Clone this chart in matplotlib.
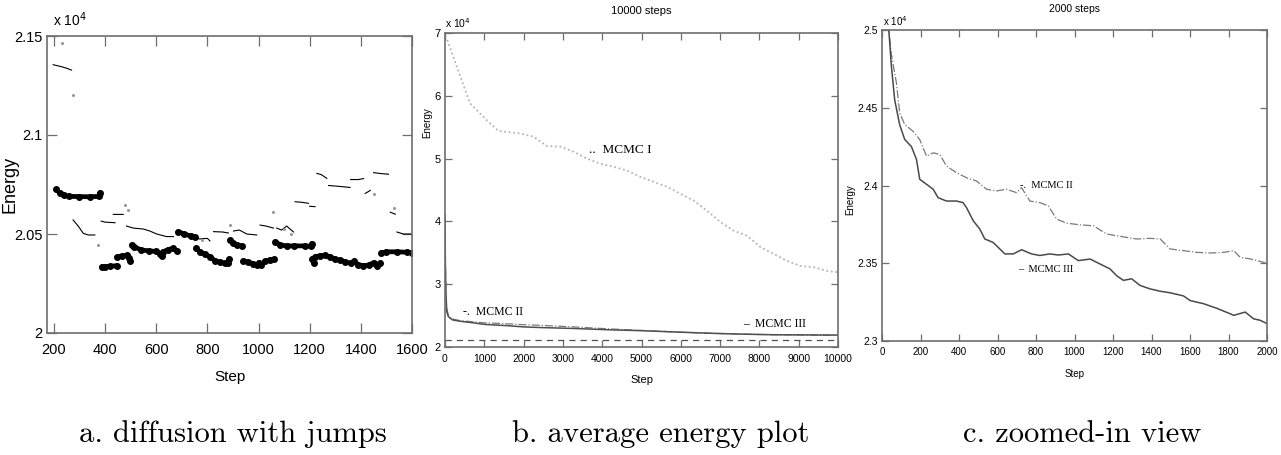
import matplotlib
matplotlib.use('Agg')
import matplotlib.pyplot as plt
import numpy as np

NARROW = ['Liberation Sans Narrow', 'Liberation Sans', 'DejaVu Sans']
SANS = ['Liberation Sans', 'DejaVu Sans']
SERIF = ['Liberation Serif', 'DejaVu Serif']
CAPTION = ['cmr10', 'DejaVu Serif']

# ---- panel a: diffusion with jumps (energy in units of 1e4) ----
thick_segments = [
    [(208, 2.0726), (225, 2.0705), (240, 2.0695), (260, 2.0690), (300, 2.0689),
     (340, 2.0688), (375, 2.0690), (380, 2.0709)],
    [(387, 2.0335), (400, 2.0335), (420, 2.0337), (445, 2.0340)],
    [(447, 2.0385), (465, 2.0389), (485, 2.0392), (495, 2.0380), (497, 2.0365)],
    [(504, 2.0445), (515, 2.0435), (540, 2.0420), (570, 2.0415), (600, 2.0412),
     (615, 2.0400), (621, 2.0389)],
    [(625, 2.0410), (645, 2.0420), (665, 2.0428), (680, 2.0415)],
    [(685, 2.0512), (710, 2.0500), (735, 2.0490), (752, 2.0485)],
    [(755, 2.0430), (770, 2.0410), (790, 2.0398), (810, 2.0385), (830, 2.0365),
     (850, 2.0358), (870, 2.0352), (880, 2.0355), (884, 2.0374)],
    [(889, 2.0470), (900, 2.0455), (915, 2.0445), (934, 2.0440)],
    [(941, 2.0365), (960, 2.0358), (980, 2.0350), (995, 2.0343)],
    [(1000, 2.0355), (1010, 2.0345), (1025, 2.0362), (1045, 2.0370), (1062, 2.0372)],
    [(1065, 2.0461), (1085, 2.0445), (1110, 2.0440), (1140, 2.0440), (1180, 2.0440),
     (1205, 2.0438), (1208, 2.0452)],
    [(1210, 2.0375), (1215, 2.0355)],
    [(1221, 2.0385), (1240, 2.0390), (1260, 2.0392), (1280, 2.0385), (1300, 2.0372),
     (1320, 2.0368), (1340, 2.0360), (1360, 2.0352), (1375, 2.0362), (1390, 2.0345),
     (1410, 2.0340), (1430, 2.0343), (1450, 2.0355), (1465, 2.0340), (1476, 2.0352)],
    [(1480, 2.0405), (1500, 2.0410), (1540, 2.0410), (1580, 2.0408), (1600, 2.0405)],
]

thin_segments = [
    [(197, 2.1355), (230, 2.1345), (250, 2.1337), (269, 2.1328)],
    [(275, 2.0571), (295, 2.0540), (315, 2.0503), (335, 2.0495), (360, 2.0495)],
    [(385, 2.0565), (400, 2.0560), (439, 2.0557)],
    [(432, 2.0599), (471, 2.0599)],
    [(484, 2.0540), (510, 2.0530), (550, 2.0525), (575, 2.0515), (602, 2.0500),
     (640, 2.0487), (667, 2.0487)],
    [(745, 2.0480), (771, 2.0475), (800, 2.0478), (810, 2.0465)],
    [(824, 2.0512), (860, 2.0510), (882, 2.0505)],
    [(902, 2.0515), (925, 2.0520), (954, 2.0500), (993, 2.0495)],
    [(1006, 2.0545), (1030, 2.0540), (1058, 2.0530)],
    [(1071, 2.0530), (1090, 2.0520), (1110, 2.0540), (1137, 2.0510)],
    [(1143, 2.0663), (1170, 2.0660), (1195, 2.0655)],
    [(1200, 2.0640), (1221, 2.0638)],
    [(1228, 2.0806), (1245, 2.0800), (1267, 2.0781)],
    [(1274, 2.0745), (1320, 2.0740), (1358, 2.0735)],
    [(1360, 2.0775), (1390, 2.0775), (1411, 2.0780)],
    [(1417, 2.0705), (1437, 2.0720)],
    [(1450, 2.0810), (1480, 2.0805), (1508, 2.0802)],
    [(1515, 2.0610), (1535, 2.0600)],
    [(1541, 2.0510), (1567, 2.0500), (1600, 2.0500)],
]

thin_dots = [(230, 2.1463), (273, 2.1202), (374, 2.0444), (478, 2.0646), (491, 2.0621),
             (780, 2.0470), (889, 2.0545), (1058, 2.0613), (1100, 2.0525), (1125, 2.0500),
             (1450, 2.0700), (1530, 2.0630)]

a_xticks = [200, 400, 600, 800, 1000, 1200, 1400, 1600]
a_yticks = [2.0, 2.05, 2.1, 2.15]
a_yticklabels = ['2', '2.05', '2.1', '2.15']

# ---- panel b: average energy, 10000 steps ----
b_steps_1 = [0, 42, 297, 637, 1062, 1359, 1912, 2251, 2591, 2931, 3271, 3611, 3951,
             4290, 4630, 4970, 5310, 5650, 5990, 6330, 6669, 7009, 7349, 7689, 8029,
             8368, 8708, 9048, 9388, 9728, 10000]
b_mcmc1 = [6.95, 6.92, 6.47, 5.88, 5.61, 5.44, 5.40, 5.35, 5.20, 5.19, 5.11, 5.00, 4.92,
           4.87, 4.81, 4.71, 4.63, 4.55, 4.44, 4.33, 4.17, 3.99, 3.85, 3.77, 3.59,
           3.48, 3.37, 3.29, 3.27, 3.21, 3.19]

b_steps_23 = [0, 10, 25, 43, 80, 128, 200, 383, 723, 1000, 1574, 2000, 2426, 3277,
              4128, 4979, 5830, 6681, 7532, 8383, 10000]
b_mcmc2 = [4.10, 3.40, 2.90, 2.62, 2.52, 2.47, 2.445, 2.42, 2.40, 2.385, 2.37, 2.355,
           2.345, 2.32, 2.29, 2.265, 2.24, 2.22, 2.205, 2.195, 2.185]
b_mcmc3 = [4.10, 3.30, 2.85, 2.57, 2.49, 2.46, 2.43, 2.41, 2.385, 2.36, 2.34, 2.32,
           2.31, 2.295, 2.275, 2.26, 2.24, 2.22, 2.205, 2.195, 2.19]
b_ground = 2.11

b_xticks = list(range(0, 10001, 1000))
b_yticks = [2, 3, 4, 5, 6, 7]

# ---- panel c: zoomed-in view, 2000 steps ----
c_steps_3 = [30, 36, 49, 66, 92, 118, 153, 179, 196, 231, 266, 291, 335, 387, 421, 439,
             474, 508, 534, 577, 612, 638, 682, 725, 777, 820, 872, 916, 968, 1020,
             1081, 1133, 1185, 1219, 1254, 1297, 1341, 1393, 1445, 1497, 1566, 1601,
             1670, 1740, 1809, 1827, 1887, 1930, 1965, 2000]
c_mcmc3 = [2.512, 2.499, 2.4765, 2.455, 2.439, 2.4296, 2.425, 2.4168, 2.404, 2.4008,
           2.3976, 2.3922, 2.390, 2.390, 2.389, 2.3858, 2.3773, 2.372, 2.3656, 2.3634,
           2.3592, 2.356, 2.356, 2.3587, 2.356, 2.355, 2.356, 2.3553, 2.356, 2.3517,
           2.3527, 2.3495, 2.3463, 2.342, 2.339, 2.340, 2.3357, 2.3335, 2.3320, 2.3310,
           2.329, 2.3260, 2.324, 2.321, 2.3175, 2.3165, 2.3186, 2.3143, 2.3133, 2.3112]

c_steps_2 = [30, 36, 49, 75, 92, 118, 161, 196, 231, 266, 300, 335, 387, 439, 491, 543,
             595, 647, 699, 725, 768, 820, 864, 907, 959, 1029, 1098, 1167, 1219, 1271,
             1323, 1393, 1445, 1497, 1566, 1636, 1705, 1775, 1827, 1861, 1913, 1983, 2000]
c_mcmc2 = [2.512, 2.499, 2.484, 2.4659, 2.4466, 2.4392, 2.4349, 2.4296, 2.4189, 2.421,
           2.420, 2.4125, 2.4082, 2.405, 2.4029, 2.3976, 2.3965, 2.3976, 2.3954, 2.3986,
           2.390, 2.389, 2.3869, 2.3784, 2.3758, 2.3747, 2.3741, 2.3688, 2.3677, 2.3666,
           2.3656, 2.366, 2.3656, 2.3592, 2.3581, 2.357, 2.3566, 2.357, 2.3581, 2.3538,
           2.3528, 2.3506, 2.3496]

c_xticks = list(range(0, 2001, 200))
c_yticks = [2.3, 2.35, 2.4, 2.45, 2.5]

captions = ['a. diffusion with jumps', 'b. average energy plot', 'c. zoomed-in view']

SPINE = '#6e6e6e'


def style_axes(ax, tick_len, xpad, width=1.2):
    for s in ax.spines.values():
        s.set_color(SPINE)
        s.set_linewidth(width)
    ax.tick_params(direction='in', top=True, right=True, length=tick_len,
                   color=SPINE, width=0.9)
    ax.tick_params(axis='x', pad=xpad)
    ax.tick_params(axis='y', pad=3)


def join(segments):
    xs, ys = [], []
    for seg in segments:
        for x, y in seg:
            xs.append(x)
            ys.append(y)
        xs.append(np.nan)
        ys.append(np.nan)
    return xs, ys


fig = plt.figure(figsize=(12.81, 4.55), dpi=100)
ax_a = fig.add_axes([47 / 1281, 1 - 333 / 455, 365 / 1281, 297 / 455])
ax_b = fig.add_axes([445 / 1281, 1 - 347 / 455, 393 / 1281, 314 / 455])
ax_c = fig.add_axes([882 / 1281, 1 - 341 / 455, 385 / 1281, 311 / 455])

# panel a
tx, ty = join(thin_segments)
ax_a.plot(tx, ty, color='black', lw=0.8)
ax_a.plot([p[0] for p in thin_dots], [p[1] for p in thin_dots], ls='none',
          marker='.', ms=2.5, color='#9a9a9a')
kx, ky = join(thick_segments)
ax_a.plot(kx, ky, color='black', lw=3.4, marker='o', ms=4, solid_capstyle='round')
ax_a.set_xlim(173, 1600)
ax_a.set_ylim(2.0, 2.15)
ax_a.set_xticks(a_xticks)
ax_a.set_xticklabels([str(t) for t in a_xticks], family=NARROW, fontsize=10.5)
ax_a.set_yticks(a_yticks)
ax_a.set_yticklabels(a_yticklabels, family=SANS, fontsize=10.5)
style_axes(ax_a, 7, 7)
ax_a.set_xlabel('Step', family=NARROW, fontsize=11)
ax_a.set_ylabel('Energy', family=SANS, fontsize=13)
ax_a.yaxis.set_label_coords(-0.079, 0.5)
ax_a.xaxis.set_label_coords(0.5, -0.125)
ax_a.text(0.016, 1.025, r'x 10$^{4}$', transform=ax_a.transAxes, family=NARROW,
          fontsize=10, va='bottom', ha='left')

# panel b
ax_b.plot(b_steps_1, b_mcmc1, ls=(0, (1, 1.5)), color='#b4b4b4', lw=1.3)
ax_b.plot(b_steps_23, b_mcmc2, ls='-.', color='#7a7a7a', lw=0.9)
ax_b.plot(b_steps_23, b_mcmc3, ls='-', color='#505050', lw=1.1)
ax_b.axhline(b_ground, ls=(0, (5, 4)), color='#505050', lw=0.9)
ax_b.set_xlim(0, 10000)
ax_b.set_ylim(2, 7)
ax_b.set_xticks(b_xticks)
ax_b.set_xticklabels([str(t) for t in b_xticks], family=NARROW, fontsize=7.5)
ax_b.set_yticks(b_yticks)
ax_b.set_yticklabels([str(t) for t in b_yticks], family=NARROW, fontsize=8)
style_axes(ax_b, 5, 5)
ax_b.set_xlabel('Step', family=NARROW, fontsize=8)
ax_b.set_ylabel('Energy', family=SANS, fontsize=7)
ax_b.yaxis.set_label_coords(-0.033, 0.713)
ax_b.xaxis.set_label_coords(0.5, -0.089)
ax_b.set_title('10000 steps', family=NARROW, fontsize=8, y=1.035)
ax_b.text(0.0, 1.01, r'x 10$^{4}$', transform=ax_b.transAxes, family=NARROW,
          fontsize=7.5, va='bottom', ha='left')
ax_b.text(3653, 5.14, '..  MCMC I', family=SERIF, fontsize=9.5, va='center')
ax_b.text(466, 2.56, '-.  MCMC II', family=SERIF, fontsize=8.5, va='center')
ax_b.text(7585, 2.36, '\u2013  MCMC III', family=SERIF, fontsize=8.5, va='center')

# panel c
ax_c.plot(c_steps_2, c_mcmc2, ls='-.', color='#7a7a7a', lw=0.9)
ax_c.plot(c_steps_3, c_mcmc3, ls='-', color='#4a4a4a', lw=1.1)
ax_c.set_xlim(0, 2000)
ax_c.set_ylim(2.3, 2.5)
ax_c.set_xticks(c_xticks)
ax_c.set_xticklabels([str(t) for t in c_xticks], family=NARROW, fontsize=7)
ax_c.set_yticks(c_yticks)
ax_c.set_yticklabels(['2.3', '2.35', '2.4', '2.45', '2.5'], family=NARROW, fontsize=7.5)
style_axes(ax_c, 5, 4)
ax_c.set_xlabel('Step', family=NARROW, fontsize=7)
ax_c.set_ylabel('Energy', family=SANS, fontsize=7)
ax_c.yaxis.set_label_coords(-0.070, 0.453)
ax_c.xaxis.set_label_coords(0.5, -0.09)
ax_c.set_title('2000 steps', family=NARROW, fontsize=7.5, y=1.03)
ax_c.text(0.003, 1.005, r'x 10$^{4}$', transform=ax_c.transAxes, family=NARROW,
          fontsize=7, va='bottom', ha='left')
ax_c.text(716, 2.40, '-.  MCMC II', family=SERIF, fontsize=7.5, va='center')
ax_c.text(708, 2.346, '\u2013  MCMC III', family=SERIF, fontsize=7.5, va='center')

# captions
for cx, cap in zip([233, 661, 1082], captions):
    fig.text(cx / 1281, 0.028, cap, family=CAPTION, fontsize=22, ha='center',
             va='baseline')

fig.savefig('out.png', dpi=100)
